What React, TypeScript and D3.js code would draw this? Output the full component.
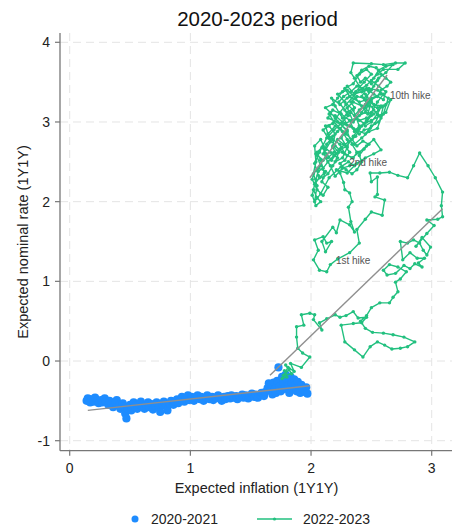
import React from "react";
import * as d3 from "d3";

type P = [number, number];

const xTicks = [0, 1, 2, 3];
const yTicks = [-1, 0, 1, 2, 3, 4];
const titleText = "2020-2023 period";
const xLabel = "Expected inflation (1Y1Y)";
const yLabel = "Expected nominal rate (1Y1Y)";
const seriesNames = ["2020-2021", "2022-2023"];

const blue2020: P[] = [
  [0.14,-0.5],[0.15,-0.47],[0.17,-0.52],[0.18,-0.48],[0.2,-0.51],[0.21,-0.46],[0.23,-0.5],[0.24,-0.53],[0.26,-0.49],[0.27,-0.52],
  [0.29,-0.47],[0.3,-0.51],[0.32,-0.55],[0.33,-0.5],[0.35,-0.53],[0.36,-0.58],[0.38,-0.52],[0.39,-0.49],[0.41,-0.55],[0.42,-0.6],
  [0.44,-0.53],[0.45,-0.57],[0.46,-0.66],[0.47,-0.72],[0.48,-0.6],[0.5,-0.55],[0.51,-0.62],[0.53,-0.52],[0.54,-0.57],[0.56,-0.6],
  [0.57,-0.54],[0.59,-0.51],[0.6,-0.57],[0.62,-0.6],[0.63,-0.55],[0.65,-0.52],[0.66,-0.58],[0.68,-0.54],[0.69,-0.61],[0.71,-0.56],
  [0.72,-0.52],[0.74,-0.58],[0.75,-0.64],[0.77,-0.55],[0.78,-0.51],[0.8,-0.57],[0.81,-0.62],[0.83,-0.54],[0.84,-0.5],[0.86,-0.55],
  [0.87,-0.51],[0.89,-0.48],[0.9,-0.53],[0.92,-0.49],[0.93,-0.45],[0.95,-0.51],[0.96,-0.47],[0.98,-0.43],[0.99,-0.49],[1.01,-0.45],
  [1.03,-0.5],[1.04,-0.46],[1.06,-0.43],[1.08,-0.48],[1.09,-0.45],[1.11,-0.5],[1.13,-0.46],[1.14,-0.43],[1.16,-0.48],[1.18,-0.45],
  [1.19,-0.49],[1.21,-0.46],[1.23,-0.43],[1.24,-0.47],[1.26,-0.5],[1.28,-0.45],[1.29,-0.48],[1.31,-0.44],[1.33,-0.47],[1.34,-0.43],
  [1.36,-0.46],[1.38,-0.44],[1.39,-0.48],[1.41,-0.45],[1.43,-0.42],[1.44,-0.46],[1.46,-0.43],[1.48,-0.47],[1.49,-0.44],[1.51,-0.41],
  [1.53,-0.45],[1.54,-0.42],[1.56,-0.46],[1.58,-0.43],[1.59,-0.4],[1.61,-0.44],[1.62,-0.39],[1.64,-0.34],[1.65,-0.28],[1.66,-0.37],
  [1.67,-0.3],[1.68,-0.42],[1.69,-0.27],[1.7,-0.35],[1.71,-0.4],[1.72,-0.25],[1.73,-0.08],[1.74,-0.32],[1.75,-0.38],[1.76,-0.2],
  [1.77,-0.27],[1.78,-0.35],[1.79,-0.17],[1.8,-0.24],[1.81,-0.31],[1.82,-0.4],[1.83,-0.2],[1.84,-0.28],[1.85,-0.35],[1.86,-0.23],
  [1.87,-0.3],[1.88,-0.38],[1.89,-0.26],[1.9,-0.33],[1.91,-0.4],[1.92,-0.3],[1.93,-0.36],[1.95,-0.39],[1.96,-0.33],[1.97,-0.41]
];

const green2022: P[] = [
  [1.78,-0.12],[1.8,-0.2],[1.76,-0.22],[1.82,-0.1],[1.79,-0.05],[1.84,-0.16],[1.77,-0.18],[1.81,-0.08],[1.86,-0.13],[1.83,-0.03],
  [1.92,-0.08],[1.99,0.05],[1.93,0.1],[1.89,0.16],[1.88,0.3],[1.88,0.43],[1.94,0.45],[1.92,0.58],[1.99,0.6],[2.03,0.58],
  [2.02,0.52],[2.09,0.39],[2.07,0.48],[2.13,0.53],[2.2,0.58],[2.24,0.55],[2.29,0.57],[2.35,0.62],[2.39,0.54],[2.46,0.55],
  [2.42,0.48],[2.35,0.47],[2.25,0.45],[2.28,0.24],[2.36,0.14],[2.43,0.05],[2.49,0.18],[2.55,0.24],[2.61,0.2],[2.67,0.15],
  [2.74,0.16],[2.8,0.18],[2.86,0.24],[2.77,0.3],[2.68,0.33],[2.6,0.35],[2.51,0.36],[2.45,0.41],[2.41,0.5],[2.46,0.57],
  [2.5,0.67],[2.57,0.73],[2.65,0.73],[2.68,0.8],[2.72,0.87],[2.7,0.99],[2.74,1.03],[2.79,1.12],[2.72,1.18],[2.65,1.21],
  [2.6,1.14],[2.63,1.08],[2.7,1.1],[2.77,1.2],[2.82,1.16],[2.86,1.22],[2.92,1.18],[2.89,1.23],[2.94,1.29],[2.88,1.29],
  [2.82,1.36],[2.76,1.27],[2.74,1.5],[2.8,1.48],[2.85,1.52],[2.9,1.48],[2.93,1.39],[2.96,1.33],[2.99,1.43],[2.92,1.55],
  [2.87,1.44],[2.96,1.6],[3.02,1.7],[2.96,1.77],[3.05,1.78],[3.09,1.81],[3.08,1.95],[3.09,2.12],[3.03,2.3],[2.97,2.45],
  [2.9,2.61],[2.85,2.45],[2.8,2.3],[2.72,2.33],[2.65,2.37],[2.57,2.36],[2.49,2.36],[2.5,2.25],[2.55,2.31],[2.55,2.09],
  [2.53,2.06],[2.61,2.02],[2.59,1.83],[2.5,1.87],[2.45,1.78],[2.38,1.65],[2.4,1.48],[2.32,1.36],[2.22,1.28],[2.16,1.21],
  [2.13,1.12],[2.07,1.14],[2.02,1.27],[2.06,1.39],[2.03,1.52],[2.1,1.56],[2.13,1.48],[2.17,1.5],[2.12,1.37],[2.09,1.5],
  [2.18,1.68],[2.21,1.61],[2.24,1.77],[2.32,1.71],[2.36,1.62],[2.33,1.75],[2.31,1.93],[2.34,2.0],[2.32,2.11],[2.28,2.15],
  [2.27,2.24],[2.24,2.36],[2.21,2.4],[2.3,2.36],[2.36,2.45],[2.31,2.5],[2.25,2.44],
  [2.15,2.3],[2.08,2.1],[2.03,2.0],[2.05,2.2],[2.02,2.35],[2.08,2.45],[2.04,2.6],[2.1,2.52],[2.06,2.42],[2.12,2.38],
  [2.09,2.25],[2.14,2.18],[2.1,2.08],[2.05,2.15],[2.01,2.28],[2.04,2.5],[2.03,2.7],[2.08,2.78],[2.12,2.65],[2.16,2.75],
  [2.1,2.9],[2.15,2.95],[2.2,2.85],[2.18,2.7],[2.23,2.62],[2.2,2.5],[2.26,2.55],[2.3,2.68],[2.25,2.8],[2.3,2.9],
  [2.22,3.0],[2.14,3.05],[2.18,3.15],[2.25,3.1],[2.32,3.02],[2.36,2.88],[2.4,2.95],[2.35,3.15],[2.28,3.25],[2.22,3.35],
  [2.3,3.4],[2.37,3.3],[2.42,3.2],[2.47,3.1],[2.5,3.25],[2.45,3.35],[2.4,3.45],[2.36,3.55],[2.33,3.62],[2.35,3.74],
  [2.5,3.73],[2.6,3.72],[2.7,3.74],[2.78,3.74],[2.72,3.66],[2.6,3.66],[2.55,3.6],[2.5,3.52],[2.56,3.45],[2.62,3.38],
  [2.6,3.28],[2.52,3.35],[2.46,3.42],[2.42,3.32],[2.48,3.2],[2.55,3.18],[2.6,3.2],[2.58,3.08],[2.5,3.02],[2.44,2.98],
  [2.38,3.05],[2.33,3.12],[2.26,3.05],[2.2,3.2],[2.17,3.3],[2.24,3.22],[2.3,3.3],[2.37,3.38],[2.44,3.5],[2.5,3.6],
  [2.46,3.66],[2.4,3.6],[2.35,3.48],[2.28,3.42],[2.32,3.32],[2.4,3.25],[2.46,3.28],[2.52,3.15],[2.58,3.05],[2.55,2.92],
  [2.48,2.88],[2.42,2.8],[2.36,2.72],[2.3,2.78],[2.26,2.88],[2.2,2.95],[2.14,2.85],[2.18,2.78],[2.24,2.72],[2.28,2.6],
  [2.34,2.55],[2.4,2.62],[2.46,2.7],[2.52,2.78],[2.58,2.65],[2.52,2.6],[2.45,2.55],[2.38,2.48],[2.32,2.45],[2.26,2.42],
  [2.2,2.32],[2.16,2.45],[2.12,2.55],[2.1,2.7],[2.16,2.62],[2.22,2.55],[2.18,2.45],[2.14,2.35],[2.1,2.3],[2.06,2.33],
  [2.03,2.48],[2.07,2.62],[2.13,2.8],[2.19,2.9],[2.25,2.98],[2.32,2.95],[2.38,2.9],[2.45,2.85],[2.5,2.95],[2.56,3.0],
  [2.6,3.1],[2.64,3.3],[2.58,3.35],[2.5,3.3],[2.42,3.12],[2.35,3.0],[2.3,3.18],[2.35,3.25],[2.45,3.18],[2.5,3.08],
  [2.46,3.0],[2.4,2.92],[2.35,2.82],
  [2.3,2.7],[2.24,2.65],[2.19,2.58],[2.14,2.5],[2.1,2.42],[2.06,2.38],[2.04,2.28],[2.02,2.15],[2.05,2.05],[2.08,2.0],
  [2.04,1.95],[2.01,2.08],[2.03,2.22],[2.07,2.3],[2.11,2.36],[2.08,2.52],[2.05,2.62],[2.09,2.68],[2.13,2.6],[2.17,2.52],
  [2.21,2.6],[2.18,2.68],[2.22,2.78],[2.27,2.72],[2.32,2.62],[2.28,2.52],[2.24,2.48],[2.29,2.4],[2.34,2.35],[2.38,2.4],
  [2.42,2.5],[2.4,2.58],[2.44,2.66],[2.48,2.72],[2.43,2.76],[2.38,2.7],[2.34,2.78],[2.29,2.85],[2.24,2.92],[2.19,3.0],
  [2.15,3.1],[2.2,3.08],[2.26,3.0],[2.31,3.08],[2.28,3.15],[2.23,3.25],[2.27,3.32],[2.33,3.38],[2.38,3.45],[2.43,3.42],
  [2.48,3.38],[2.52,3.45],[2.55,3.52],[2.5,3.48],[2.45,3.55],[2.41,3.5],[2.38,3.58],[2.42,3.65],[2.48,3.7],[2.54,3.68],
  [2.58,3.6],[2.62,3.55],[2.66,3.5],[2.63,3.45],[2.58,3.4],[2.55,3.32],[2.5,3.28],[2.45,3.22],[2.4,3.15],[2.36,3.08],
  [2.4,3.02],[2.46,3.05],[2.52,3.1],[2.56,3.15],[2.62,3.22],[2.66,3.28],[2.62,3.12],[2.56,3.08],[2.53,2.98],[2.49,2.92],
  [2.44,2.9],[2.4,2.85],[2.35,2.92],[2.3,2.96],[2.27,3.05],[2.3,3.12],[2.36,3.18],[2.33,3.25],[2.38,3.32],[2.44,3.3],
  [2.48,3.25],[2.45,3.12],[2.4,3.08],[2.34,3.02],[2.28,2.98],[2.22,2.88],[2.18,2.82],[2.13,2.72],[2.1,2.6],[2.14,2.55],
  [2.19,2.62],[2.25,2.68],[2.31,2.75],[2.37,2.82],[2.42,2.95],[2.46,3.02],[2.5,3.12],[2.55,3.25],[2.6,3.35],[2.55,3.4],
  [2.48,3.42],[2.42,3.38],[2.36,3.35],[2.3,3.45],[2.26,3.38],[2.22,3.3],[2.18,3.22],[2.12,3.18],[2.16,3.12],[2.2,3.05],
  [2.24,2.98],[2.3,2.88],[2.34,2.72],[2.38,2.62],[2.35,2.55],[2.3,2.58],[2.26,2.62],[2.2,2.7],[2.15,2.8],[2.12,2.95],
  [2.18,2.98],[2.24,3.12],[2.29,3.22],[2.34,3.3],[2.4,3.4],[2.46,3.46],[2.52,3.55],[2.56,3.65],[2.62,3.7],[2.68,3.72],
  [2.62,3.62],[2.56,3.55],[2.5,3.4],[2.46,3.32],[2.52,3.22],[2.58,3.2],[2.55,3.1],[2.5,3.0],[2.45,2.95]
];

const fitBlue: P[] = [[0.15, -0.62], [1.99, -0.31]];
const fitGreenEarly: P[] = [[1.66, -0.18], [3.09, 1.91]];
const fitGreenLate: P[] = [[1.99, 2.3], [2.63, 3.59]];

const hikeLabels = [
  { label: "1st hike", x: 2.206, y: 1.26 },
  { label: "2nd hike", x: 2.316, y: 2.49 },
  { label: "10th hike", x: 2.654, y: 3.33 },
];

const BLUE = "#1e8cff";
const GREEN = "#22c07f";
const FIT = "#8f8f8f";
const FONT = "'Liberation Sans', Arial, Helvetica, sans-serif";

export default function App() {
  const W = 452, H = 529;
  const left = 60, right = 452, top = 33, bottom = 450.7;
  const x = d3.scaleLinear().domain([0, 3]).range([69.7, 431.7]);
  const y = d3.scaleLinear().domain([-1, 4]).range([440.7, 42.3]);
  const line = d3.line<P>().x(d => x(d[0])).y(d => y(d[1]));

  return (
    <svg width={W} height={H} style={{ position: "absolute", left: 0, top: 0, background: "#fff" }} fontFamily={FONT}>
      <rect x={0} y={0} width={W} height={H} fill="#fff" />
      {yTicks.map(t => (
        <line key={"gy" + t} x1={left} x2={right} y1={y(t)} y2={y(t)} stroke="#e4e4e4" strokeWidth={1} strokeDasharray="8,5" />
      ))}
      {xTicks.map(t => (
        <line key={"gx" + t} x1={x(t)} x2={x(t)} y1={top} y2={bottom} stroke="#e4e4e4" strokeWidth={1} strokeDasharray="8,5" />
      ))}
      <g>
        {blue2020.map((d, i) => (
          <circle key={"b" + i} cx={x(d[0])} cy={y(d[1])} r={4.1} fill={BLUE} />
        ))}
      </g>
      <path d={line(green2022) || ""} fill="none" stroke={GREEN} strokeWidth={1.4} strokeLinejoin="round" />
      <g>
        {green2022.map((d, i) => (
          <circle key={"g" + i} cx={x(d[0])} cy={y(d[1])} r={1.7} fill={GREEN} />
        ))}
      </g>
      {[fitBlue, fitGreenEarly, fitGreenLate].map((f, i) => (
        <path key={"f" + i} d={line(f) || ""} stroke={FIT} strokeWidth={1.4} fill="none" />
      ))}
      {hikeLabels.map(h => (
        <text key={h.label} x={x(h.x)} y={y(h.y)} dy="0.35em" fontSize={10} fill="#555">{h.label}</text>
      ))}
      <line x1={left} x2={left} y1={top} y2={bottom} stroke="#777" strokeWidth={1.3} />
      <line x1={left} x2={right} y1={bottom} y2={bottom} stroke="#777" strokeWidth={1.3} />
      {yTicks.map(t => (
        <g key={"yt" + t}>
          <line x1={left - 5} x2={left} y1={y(t)} y2={y(t)} stroke="#777" strokeWidth={1.2} />
          <text x={left - 10} y={y(t)} dy="0.35em" textAnchor="end" fontSize={14} fill="#222">{t}</text>
        </g>
      ))}
      {xTicks.map(t => (
        <g key={"xt" + t}>
          <line x1={x(t)} x2={x(t)} y1={bottom} y2={bottom + 5} stroke="#777" strokeWidth={1.2} />
          <text x={x(t)} y={bottom + 22} textAnchor="middle" fontSize={14} fill="#222">{t}</text>
        </g>
      ))}
      <text x={257.5} y={26} textAnchor="middle" fontSize={20.5} fill="#111">{titleText}</text>
      <text x={256.5} y={493} textAnchor="middle" fontSize={14.5} fill="#222">{xLabel}</text>
      <text transform={`translate(28,242) rotate(-90)`} textAnchor="middle" fontSize={14.5} fill="#222">{yLabel}</text>
      <circle cx={135} cy={519} r={3.5} fill={BLUE} />
      <text x={151} y={524} fontSize={14} fill="#222">{seriesNames[0]}</text>
      <line x1={257} x2={292} y1={519} y2={519} stroke={GREEN} strokeWidth={1.3} />
      <circle cx={274.5} cy={519} r={1.6} fill={GREEN} />
      <text x={303} y={524} fontSize={14} fill="#222">{seriesNames[1]}</text>
    </svg>
  );
}
